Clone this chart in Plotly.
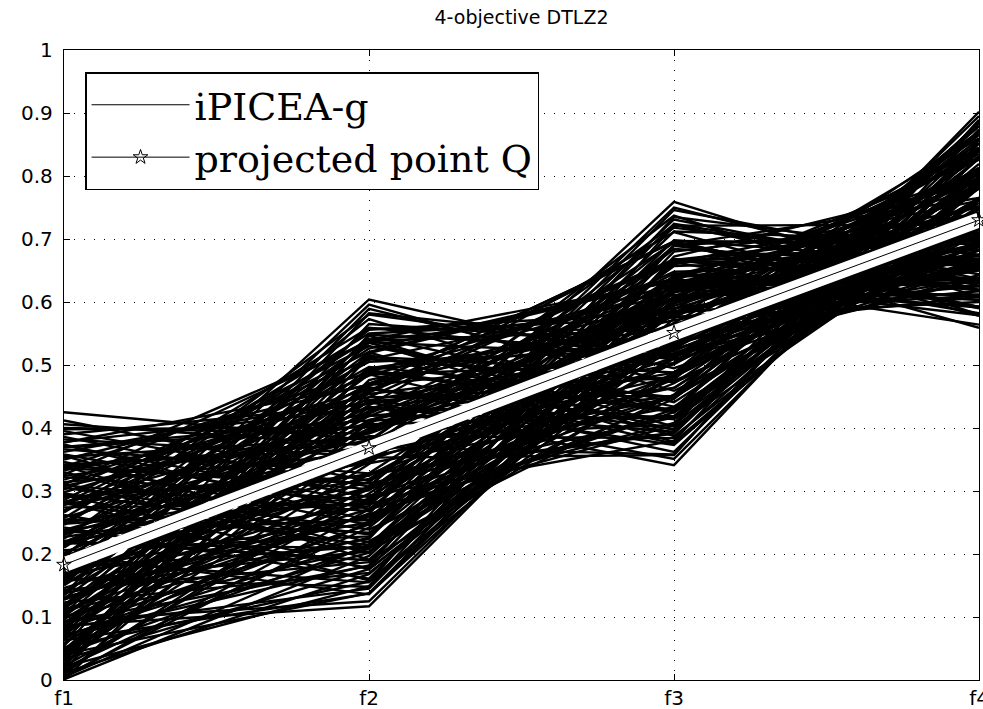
import plotly.graph_objects as go

objectives = ["f1", "f2", "f3", "f4"]

f1 = [0.000, 0.004, 0.008, 0.012, 0.016, 0.019, 0.023, 0.027, 0.030, 0.034,
      0.038, 0.042, 0.046, 0.050, 0.054, 0.058, 0.062, 0.066, 0.070, 0.074,
      0.077, 0.080, 0.083, 0.086, 0.089, 0.092, 0.096, 0.100, 0.104, 0.107,
      0.110, 0.113, 0.116, 0.119, 0.123, 0.127, 0.131, 0.134, 0.137, 0.140,
      0.143, 0.146, 0.150, 0.154, 0.158, 0.161, 0.164, 0.167, 0.170, 0.174,
      0.178, 0.182, 0.186, 0.190, 0.193, 0.196, 0.199, 0.202, 0.206, 0.210,
      0.214, 0.218, 0.221, 0.224, 0.227, 0.230, 0.234, 0.238, 0.242, 0.246,
      0.249, 0.252, 0.255, 0.258, 0.262, 0.266, 0.270, 0.274, 0.277, 0.280,
      0.283, 0.286, 0.290, 0.294, 0.298, 0.302, 0.305, 0.308, 0.311, 0.314,
      0.318, 0.322, 0.326, 0.330, 0.333, 0.336, 0.339, 0.342, 0.346, 0.350,
      0.354, 0.358, 0.362, 0.366, 0.370, 0.374, 0.378, 0.382, 0.386, 0.390,
      0.395, 0.400, 0.406, 0.412, 0.130, 0.230, 0.170, 0.190, 0.160, 0.200,
      0.425, 0.005, 0.086, 0.280, 0.100, 0.040, 0.220, 0.070, 0.310, 0.340,
      0.001, 0.011, 0.021, 0.033, 0.041, 0.052, 0.063, 0.072, 0.084, 0.094,
      0.006, 0.014, 0.025, 0.036, 0.044, 0.068, 0.075, 0.101, 0.102, 0.128,
      0.129, 0.157, 0.159, 0.188, 0.191, 0.217, 0.219, 0.248, 0.251, 0.279,
      0.281, 0.309, 0.312, 0.339, 0.341, 0.369, 0.372, 0.398, 0.118, 0.152,
      0.176, 0.212, 0.236, 0.268, 0.296, 0.324, 0.082, 0.048, 0.022, 0.112,
      0.198, 0.138, 0.257, 0.088, 0.377, 0.356, 0.232, 0.162, 0.283, 0.035]

f2 = [0.476, 0.271, 0.411, 0.327, 0.513, 0.242, 0.456, 0.381, 0.539, 0.343,
      0.492, 0.213, 0.426, 0.286, 0.565, 0.351, 0.546, 0.202, 0.444, 0.378,
      0.582, 0.247, 0.433, 0.303, 0.489, 0.181, 0.395, 0.516, 0.589, 0.328,
      0.226, 0.459, 0.375, 0.495, 0.170, 0.346, 0.261, 0.540, 0.596, 0.419,
      0.187, 0.288, 0.465, 0.354, 0.520, 0.148, 0.436, 0.250, 0.399, 0.556,
      0.212, 0.370, 0.314, 0.155, 0.471, 0.573, 0.276, 0.406, 0.228, 0.526,
      0.349, 0.441, 0.190, 0.580, 0.301, 0.497, 0.254, 0.375, 0.161, 0.541,
      0.327, 0.457, 0.234, 0.392, 0.178, 0.559, 0.420, 0.279, 0.483, 0.214,
      0.381, 0.530, 0.324, 0.176, 0.445, 0.509, 0.239, 0.407, 0.202, 0.360,
      0.462, 0.285, 0.536, 0.209, 0.423, 0.312, 0.488, 0.367, 0.246, 0.469,
      0.385, 0.272, 0.449, 0.328, 0.412, 0.253, 0.430, 0.355, 0.290, 0.438,
      0.307, 0.391, 0.372, 0.316, 0.271, 0.469, 0.306, 0.434, 0.604, 0.136,
      0.381, 0.215, 0.117, 0.521, 0.264, 0.519, 0.293, 0.220, 0.538, 0.191,
      0.197, 0.168, 0.149, 0.176, 0.138, 0.156, 0.137, 0.182, 0.145, 0.125,
      0.252, 0.308, 0.493, 0.408, 0.296, 0.248, 0.471, 0.208, 0.413, 0.281,
      0.485, 0.204, 0.427, 0.304, 0.509, 0.209, 0.395, 0.281, 0.505, 0.344,
      0.419, 0.268, 0.454, 0.377, 0.303, 0.403, 0.282, 0.401, 0.449, 0.558,
      0.258, 0.442, 0.319, 0.485, 0.231, 0.387, 0.535, 0.463, 0.288, 0.263,
      0.536, 0.224, 0.550, 0.469, 0.468, 0.218, 0.367, 0.353, 0.158, 0.548]

f3 = [0.585, 0.660, 0.449, 0.502, 0.488, 0.617, 0.668, 0.526, 0.590, 0.718,
      0.425, 0.558, 0.648, 0.450, 0.533, 0.594, 0.441, 0.662, 0.530, 0.722,
      0.533, 0.712, 0.394, 0.530, 0.628, 0.567, 0.618, 0.397, 0.472, 0.393,
      0.690, 0.696, 0.557, 0.558, 0.543, 0.667, 0.430, 0.633, 0.459, 0.463,
      0.680, 0.750, 0.362, 0.598, 0.378, 0.622, 0.711, 0.533, 0.616, 0.584,
      0.453, 0.358, 0.684, 0.537, 0.571, 0.425, 0.731, 0.419, 0.622, 0.636,
      0.512, 0.351, 0.485, 0.516, 0.657, 0.449, 0.724, 0.558, 0.643, 0.402,
      0.391, 0.663, 0.510, 0.607, 0.667, 0.509, 0.415, 0.408, 0.621, 0.664,
      0.694, 0.434, 0.579, 0.552, 0.373, 0.475, 0.446, 0.645, 0.631, 0.464,
      0.414, 0.689, 0.515, 0.538, 0.629, 0.417, 0.429, 0.555, 0.640, 0.576,
      0.405, 0.471, 0.451, 0.641, 0.556, 0.602, 0.583, 0.448, 0.584, 0.515,
      0.483, 0.566, 0.481, 0.559, 0.404, 0.696, 0.759, 0.341, 0.495, 0.606,
      0.519, 0.609, 0.600, 0.637, 0.746, 0.634, 0.380, 0.488, 0.557, 0.615,
      0.638, 0.588, 0.672, 0.544, 0.624, 0.690, 0.574, 0.721, 0.634, 0.597,
      0.504, 0.697, 0.538, 0.606, 0.617, 0.562, 0.602, 0.583, 0.501, 0.626,
      0.503, 0.481, 0.522, 0.589, 0.611, 0.513, 0.667, 0.580, 0.525, 0.433,
      0.606, 0.560, 0.514, 0.625, 0.452, 0.488, 0.581, 0.565, 0.666, 0.555,
      0.642, 0.481, 0.620, 0.375, 0.698, 0.384, 0.425, 0.398, 0.477, 0.425,
      0.387, 0.735, 0.576, 0.696, 0.518, 0.527, 0.737, 0.357, 0.551, 0.524]

f4 = [0.693, 0.741, 0.828, 0.831, 0.747, 0.784, 0.637, 0.781, 0.651, 0.654,
      0.798, 0.840, 0.660, 0.879, 0.675, 0.738, 0.752, 0.761, 0.737, 0.626,
      0.659, 0.695, 0.839, 0.803, 0.635, 0.835, 0.688, 0.793, 0.694, 0.886,
      0.715, 0.592, 0.739, 0.675, 0.852, 0.669, 0.885, 0.591, 0.693, 0.780,
      0.735, 0.629, 0.830, 0.710, 0.785, 0.791, 0.578, 0.806, 0.668, 0.610,
      0.883, 0.874, 0.658, 0.844, 0.658, 0.715, 0.637, 0.805, 0.741, 0.579,
      0.762, 0.832, 0.859, 0.637, 0.673, 0.730, 0.644, 0.707, 0.752, 0.735,
      0.852, 0.582, 0.810, 0.657, 0.718, 0.643, 0.784, 0.857, 0.593, 0.698,
      0.590, 0.710, 0.702, 0.798, 0.795, 0.682, 0.841, 0.607, 0.721, 0.766,
      0.750, 0.633, 0.636, 0.780, 0.603, 0.819, 0.720, 0.687, 0.683, 0.617,
      0.788, 0.791, 0.716, 0.635, 0.656, 0.700, 0.625, 0.761, 0.692, 0.668,
      0.757, 0.652, 0.723, 0.693, 0.902, 0.559, 0.608, 0.852, 0.658, 0.802,
      0.689, 0.807, 0.830, 0.564, 0.656, 0.625, 0.887, 0.879, 0.608, 0.733,
      0.795, 0.845, 0.790, 0.870, 0.826, 0.765, 0.860, 0.723, 0.806, 0.841,
      0.867, 0.692, 0.715, 0.705, 0.751, 0.812, 0.666, 0.806, 0.764, 0.731,
      0.719, 0.871, 0.727, 0.732, 0.612, 0.830, 0.620, 0.736, 0.664, 0.807,
      0.639, 0.743, 0.683, 0.631, 0.799, 0.714, 0.705, 0.650, 0.618, 0.638,
      0.718, 0.738, 0.689, 0.781, 0.660, 0.810, 0.764, 0.828, 0.865, 0.895,
      0.763, 0.675, 0.600, 0.592, 0.656, 0.782, 0.580, 0.889, 0.813, 0.696]

q_point = [0.183, 0.368, 0.551, 0.730]

y_tick_values = [0, 0.1, 0.2, 0.3, 0.4, 0.5, 0.6, 0.7, 0.8, 0.9, 1]
y_tick_labels = ["0", "0.1", "0.2", "0.3", "0.4", "0.5", "0.6", "0.7", "0.8", "0.9", "1"]

axis_pos = list(range(len(objectives)))

xs, ys = [], []
for row in zip(f1, f2, f3, f4):
    xs.extend(axis_pos + [None])
    ys.extend(list(row) + [None])

fig = go.Figure()
fig.add_trace(go.Scatter(
    x=xs, y=ys, mode="lines",
    line=dict(color="black", width=2.4),
    showlegend=False, hoverinfo="skip"))
fig.add_trace(go.Scatter(
    x=[None], y=[None], mode="lines", name="iPICEA-g",
    line=dict(color="black", width=1), legendrank=1))
fig.add_trace(go.Scatter(
    x=axis_pos, y=q_point, mode="lines",
    line=dict(color="white", width=15),
    showlegend=False, hoverinfo="skip"))
fig.add_trace(go.Scatter(
    x=axis_pos, y=q_point, mode="lines+markers", name="projected point Q",
    line=dict(color="black", width=1),
    marker=dict(symbol="star-open", size=11, color="black", line=dict(width=1, color="black")),
    cliponaxis=False, legendrank=2))

tick_font = dict(family="DejaVu Sans", size=20, color="black")
axis_common = dict(
    showline=True, linecolor="black", linewidth=1.3, mirror="ticks",
    ticks="inside", ticklen=6, tickcolor="black", tickwidth=1,
    showgrid=True, gridcolor="black", gridwidth=1, griddash="1px,9px",
    zeroline=False, tickfont=tick_font, automargin=False, fixedrange=True,
    ticklabeloverflow="allow")

fig.update_layout(
    width=983, height=709,
    margin=dict(l=64, r=4, t=50, b=29),
    paper_bgcolor="white", plot_bgcolor="white",
    title=dict(text="4-objective DTLZ2", x=0.5, xref="paper", xanchor="center",
               y=1 - 17 / 709, yanchor="middle",
               font=dict(family="DejaVu Sans", size=19, color="black")),
    xaxis=dict(range=[0, 3], tickvals=axis_pos, ticktext=objectives, **axis_common),
    yaxis=dict(range=[0, 1], tickvals=y_tick_values, ticktext=y_tick_labels,
               ticklabelstandoff=6, **axis_common),
    legend=dict(x=0.023, y=0.965, xanchor="left", yanchor="top",
                bgcolor="white", bordercolor="black", borderwidth=1.5,
                font=dict(family="DejaVu Serif", size=38, color="black"),
                itemwidth=98, tracegroupgap=0),
)

fig.write_html("out.html")
